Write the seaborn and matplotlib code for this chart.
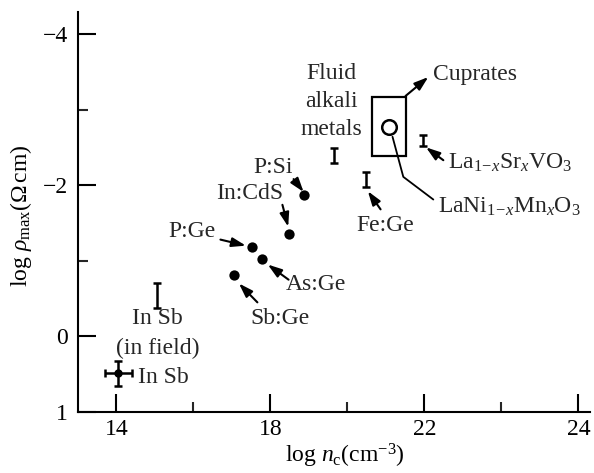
import matplotlib
matplotlib.use("Agg")
import matplotlib.pyplot as plt
from matplotlib.ticker import FixedLocator, FixedFormatter, NullFormatter
from matplotlib.patches import Rectangle
import seaborn as sns
import pandas as pd

# Doped semiconductors (filled dots)
dot_labels = ["P:Si", "In:CdS", "P:Ge", "As:Ge", "Sb:Ge"]
dot_x = [18.88, 18.47, 17.51, 17.79, 17.04]
dot_y = [-1.87, -1.35, -1.18, -1.03, -0.81]

# Systems shown as vertical ranges
bar_labels = ["In Sb (in field)", "Fluid alkali metals", "Fe:Ge", "La1-xSrxVO3"]
bar_x = [15.06, 19.64, 20.49, 21.95]
bar_y = [-0.54, -2.39, -2.07, -2.59]
bar_err = [0.16, 0.10, 0.10, 0.07]

# In Sb with errors in both directions
insb_x, insb_y = 14.05, 0.49
insb_xerr, insb_yerr = 0.34, 0.16

# Cuprates region and LaNi(1-x)Mn(x)O3
cuprate_x = [20.65, 21.53]
cuprate_y = [-3.17, -2.38]
lanimn_x, lanimn_y = 21.09, -2.77

# Axis ticks
xtick_major = [14, 18, 22, 26]
xtick_lab = ["14", "18", "22", "24"]
xtick_minor = [16, 20, 24]
ytick_major = [-4, -2, 0, 1]
ytick_lab = ["\u22124", "\u22122", "0", "1"]
ytick_minor = [-3, -1]

sns.set_theme(style="ticks")
plt.rcParams["font.family"] = ["Liberation Serif", "DejaVu Serif"]
plt.rcParams["mathtext.fontset"] = "custom"
plt.rcParams["mathtext.rm"] = "Liberation Serif"
plt.rcParams["mathtext.it"] = "Liberation Serif:italic"
plt.rcParams["mathtext.bf"] = "Liberation Serif:bold"
plt.rcParams["axes.unicode_minus"] = True

FS = 17
fig = plt.figure(figsize=(5.94, 4.73), dpi=100)
ax = fig.add_axes([78 / 594, 1 - 412 / 473, 512 / 594, 400 / 473])

dots = pd.DataFrame({"x": dot_x, "y": dot_y, "label": dot_labels})
sns.scatterplot(data=dots, x="x", y="y", color="black", s=55, edgecolor="black",
                linewidth=0, ax=ax, zorder=3, legend=False)

ax.errorbar(bar_x, bar_y, yerr=bar_err, fmt="none", ecolor="black",
            elinewidth=1.8, capsize=3.2, capthick=1.8)
ax.errorbar([insb_x], [insb_y], xerr=[insb_xerr], yerr=[insb_yerr], fmt="o",
            color="black", markersize=5, mfc="black", mec="black",
            elinewidth=1.8, capsize=3.2, capthick=1.8)

ax.add_patch(Rectangle((cuprate_x[0], cuprate_y[0]), cuprate_x[1] - cuprate_x[0],
                       cuprate_y[1] - cuprate_y[0], fill=False, ec="black", lw=1.6))
ax.plot([lanimn_x], [lanimn_y], "o", ms=10.5, mfc="white", mec="black", mew=1.8, zorder=4)
ax.plot([21.17, 21.45, 22.23], [-2.64, -2.11, -1.81], color="black", lw=1.3)

arrow = dict(arrowstyle="-|>,head_length=0.6,head_width=0.2", color="black",
             lw=1.5, mutation_scale=14, shrinkA=0, shrinkB=0)

def label_arrow(text, txy, start, end, **kw):
    ax.text(txy[0], txy[1], text, fontsize=FS, **kw)
    ax.annotate("", xy=end, xytext=start, arrowprops=arrow)

label_arrow("P:Si", (18.08, -2.23), (18.60, -2.08), (18.86, -1.91), ha="center", va="center")
label_arrow("In:CdS", (17.45, -1.89), (18.31, -1.74), (18.46, -1.45), ha="center", va="center")
label_arrow("P:Ge", (15.97, -1.39), (16.70, -1.28), (17.36, -1.20), ha="center", va="center")
label_arrow("As:Ge", (19.17, -0.68), (18.47, -0.75), (17.93, -0.95), ha="center", va="center")
label_arrow("Sb:Ge", (18.26, -0.24), (17.66, -0.45), (17.18, -0.70), ha="center", va="center")
label_arrow("Fe:Ge", (20.99, -1.47), (20.86, -1.68), (20.53, -1.92), ha="center", va="center")
label_arrow(r"La$_{1\!-\!x}$Sr$_x$VO$_3$", (22.62, -2.29), (22.49, -2.33), (22.04, -2.50),
            ha="left", va="center")
label_arrow("Cuprates", (22.21, -3.46), (21.51, -3.18), (22.10, -3.43), ha="left", va="center")

ax.text(22.34, -1.71, r"LaNi$_{1\!-\!x}$Mn$_x$O$_3$", fontsize=FS, ha="left", va="center")
ax.text(15.06, -0.24, "In Sb", fontsize=FS, ha="center", va="center")
ax.text(15.06, 0.16, "(in field)", fontsize=FS, ha="center", va="center")
ax.text(14.57, 0.54, "In Sb", fontsize=FS, ha="left", va="center")
for t, yy in zip(["Fluid", "alkali", "metals"], [-3.48, -3.10, -2.73]):
    ax.text(19.58, yy, t, fontsize=FS, ha="center", va="center")

ax.set_xlim(13.0, 26.3)
ax.set_ylim(1.0, -4.29)

ax.xaxis.set_major_locator(FixedLocator(xtick_major))
ax.xaxis.set_major_formatter(FixedFormatter(xtick_lab))
ax.xaxis.set_minor_locator(FixedLocator(xtick_minor))
ax.xaxis.set_minor_formatter(NullFormatter())
ax.yaxis.set_major_locator(FixedLocator(ytick_major))
ax.yaxis.set_major_formatter(FixedFormatter(ytick_lab))
ax.yaxis.set_minor_locator(FixedLocator(ytick_minor))
ax.yaxis.set_minor_formatter(NullFormatter())

ax.tick_params(which="major", direction="in", length=13, width=1.5, labelsize=FS,
               colors="black", pad=5)
ax.tick_params(which="minor", direction="in", length=7.5, width=1.5)
ax.tick_params(axis="y", which="major", pad=7)

for s in ["top", "right"]:
    ax.spines[s].set_visible(False)
for s in ["left", "bottom"]:
    ax.spines[s].set_linewidth(1.5)
    ax.spines[s].set_color("black")
ax.set_facecolor("white")
ax.grid(False)

ax.set_xlabel(r"log $n_{\mathrm{c}}$(cm$^{-3}$)", fontsize=FS, color="black")
ax.set_ylabel(r"log $\rho_{\mathrm{max}}$($\Omega\,$cm)", fontsize=FS, color="black")
ax.xaxis.set_label_coords(0.521, -0.074)
ax.yaxis.set_label_coords(-0.086, 0.49)

fig.savefig("out.png", dpi=100, facecolor="white")
